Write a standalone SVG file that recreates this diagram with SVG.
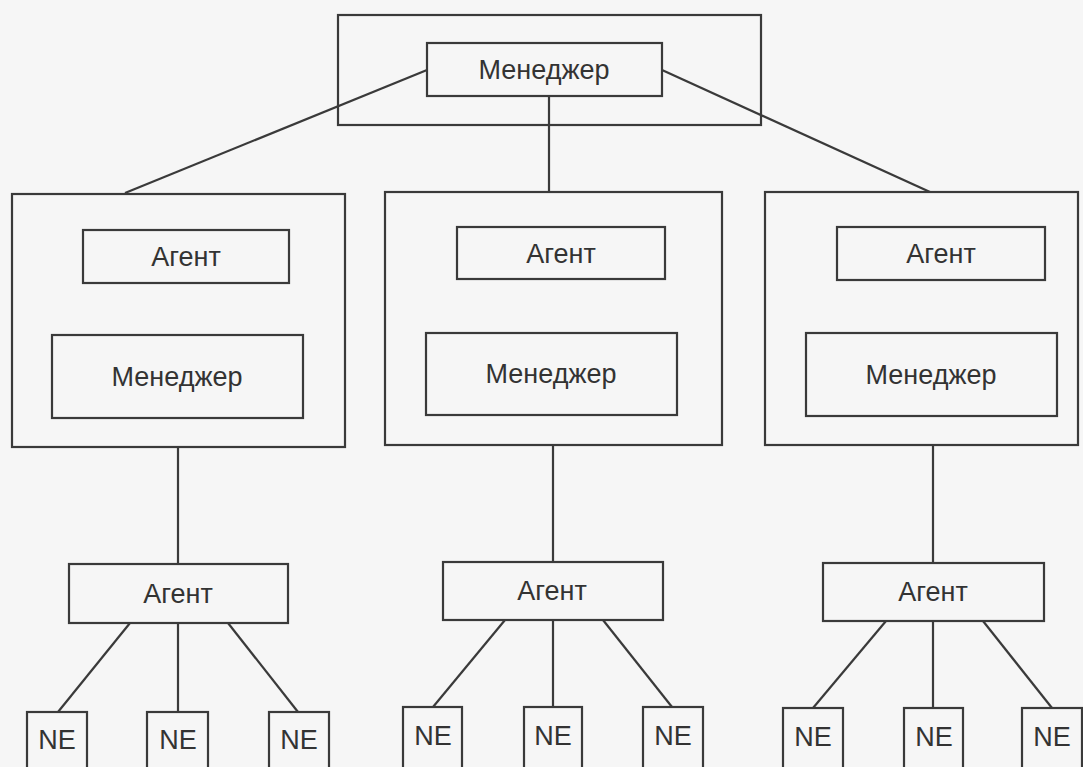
<svg xmlns="http://www.w3.org/2000/svg" width="1083" height="767" viewBox="0 0 1083 767">
  <defs>
    <style>
      .box { fill: none; stroke: #3a3a3a; stroke-width: 2.2; }
      .link { stroke: #3a3a3a; stroke-width: 2.2; fill: none; }
      .lbl { font-family: "Liberation Sans", Arial, sans-serif; font-size: 27px; fill: #333; text-anchor: middle; }
    </style>
  </defs>
  <rect width="1083" height="767" fill="#f6f6f6"/>

  <!-- connectors -->
  <g id="connectors">
    <line class="link" x1="427" y1="70" x2="125" y2="193"/>
    <line class="link" x1="549" y1="96" x2="549" y2="192"/>
    <line class="link" x1="662" y1="70" x2="930" y2="192"/>

    <line class="link" x1="178" y1="447" x2="178" y2="564"/>
    <line class="link" x1="553" y1="445" x2="553" y2="562"/>
    <line class="link" x1="933" y1="445" x2="933" y2="563"/>

    <line class="link" x1="130" y1="623" x2="58" y2="712"/>
    <line class="link" x1="178" y1="623" x2="178" y2="712"/>
    <line class="link" x1="228" y1="623" x2="298" y2="712"/>

    <line class="link" x1="505" y1="620" x2="433" y2="707"/>
    <line class="link" x1="553" y1="620" x2="553" y2="707"/>
    <line class="link" x1="603" y1="620" x2="672" y2="707"/>

    <line class="link" x1="886" y1="621" x2="813" y2="708"/>
    <line class="link" x1="933" y1="621" x2="933" y2="708"/>
    <line class="link" x1="983" y1="621" x2="1052" y2="708"/>
  </g>

  <!-- top level -->
  <g id="top">
    <rect class="box" x="338" y="15" width="423" height="110"/>
  </g>
  <g id="top-manager">
    <rect class="box" x="427" y="43" width="235" height="53"/>
    <text class="lbl" x="544" y="79">Менеджер</text>
  </g>

  <!-- middle level -->
  <g id="mid-left">
    <rect class="box" x="12" y="194" width="333" height="253"/>
    <rect class="box" x="83" y="230" width="206" height="53"/>
    <text class="lbl" x="186" y="266">Агент</text>
    <rect class="box" x="52" y="335" width="251" height="83"/>
    <text class="lbl" x="177" y="386">Менеджер</text>
  </g>
  <g id="mid-center">
    <rect class="box" x="385" y="192" width="337" height="253"/>
    <rect class="box" x="457" y="227" width="208" height="52"/>
    <text class="lbl" x="561" y="263">Агент</text>
    <rect class="box" x="426" y="333" width="251" height="82"/>
    <text class="lbl" x="551" y="383">Менеджер</text>
  </g>
  <g id="mid-right">
    <rect class="box" x="765" y="192" width="313" height="253"/>
    <rect class="box" x="837" y="227" width="208" height="53"/>
    <text class="lbl" x="941" y="263">Агент</text>
    <rect class="box" x="806" y="333" width="251" height="83"/>
    <text class="lbl" x="931" y="384">Менеджер</text>
  </g>

  <!-- agents -->
  <g id="agent-left">
    <rect class="box" x="69" y="564" width="219" height="59"/>
    <text class="lbl" x="178" y="603">Агент</text>
  </g>
  <g id="agent-center">
    <rect class="box" x="443" y="562" width="220" height="58"/>
    <text class="lbl" x="552" y="600">Агент</text>
  </g>
  <g id="agent-right">
    <rect class="box" x="823" y="563" width="221" height="58"/>
    <text class="lbl" x="933" y="601">Агент</text>
  </g>

  <!-- network elements -->
  <g id="ne-1"><rect class="box" x="27" y="712" width="60" height="80"/><text class="lbl" x="57" y="749">NE</text></g>
  <g id="ne-2"><rect class="box" x="147" y="712" width="61" height="80"/><text class="lbl" x="178" y="749">NE</text></g>
  <g id="ne-3"><rect class="box" x="269" y="712" width="60" height="80"/><text class="lbl" x="299" y="749">NE</text></g>
  <g id="ne-4"><rect class="box" x="403" y="707" width="59" height="80"/><text class="lbl" x="433" y="745">NE</text></g>
  <g id="ne-5"><rect class="box" x="524" y="707" width="58" height="80"/><text class="lbl" x="553" y="745">NE</text></g>
  <g id="ne-6"><rect class="box" x="643" y="707" width="60" height="80"/><text class="lbl" x="673" y="745">NE</text></g>
  <g id="ne-7"><rect class="box" x="783" y="708" width="60" height="80"/><text class="lbl" x="813" y="746">NE</text></g>
  <g id="ne-8"><rect class="box" x="904" y="708" width="59" height="80"/><text class="lbl" x="934" y="746">NE</text></g>
  <g id="ne-9"><rect class="box" x="1022" y="708" width="60" height="80"/><text class="lbl" x="1052" y="746">NE</text></g>
</svg>
